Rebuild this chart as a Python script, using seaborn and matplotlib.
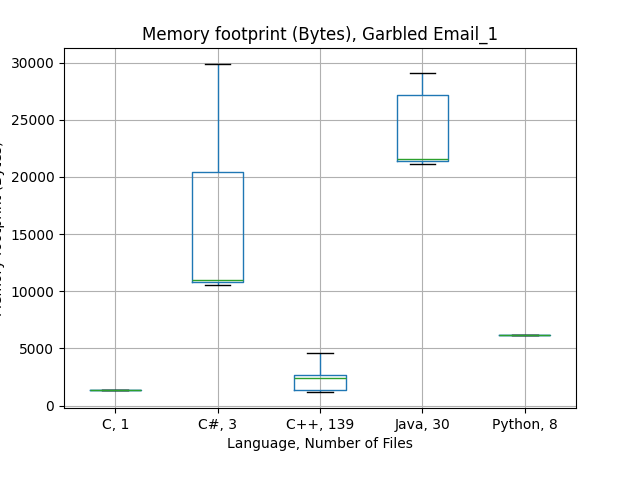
import pandas as pd
import seaborn as sns
import matplotlib
matplotlib.use('Agg')
import matplotlib.pyplot as plt

languages = ['C, 1', 'C#, 3', 'C++, 139', 'Java, 30', 'Python, 8']
c_bytes = [1380]
csharp_bytes = [10550, 11000, 29850]
cpp_bytes = [1224, 1341, 2420, 2711, 4609]
java_bytes = [21140, 21400, 21577, 27200, 29094]
python_bytes = [6120, 6150, 6150, 6160, 6180]

groups = [c_bytes, csharp_bytes, cpp_bytes, java_bytes, python_bytes]
rows = []
for lang, vals in zip(languages, groups):
    for v in vals:
        rows.append({'lang': lang, 'bytes': v})
df = pd.DataFrame(rows)

fig, ax = plt.subplots(figsize=(6.4, 4.8), dpi=100)
fig.subplots_adjust(left=0.1, right=0.9, top=0.9, bottom=0.15)

sns.boxplot(data=df, x='lang', y='bytes', order=languages, ax=ax,
            fill=False, color='C0', width=0.5, linewidth=1,
            whiskerprops={'color': 'C0'},
            capprops={'color': 'black'},
            medianprops={'color': 'C2'},
            showfliers=False)

ax.grid(True)
ax.set_axisbelow(True)
ax.set_title('Memory footprint (Bytes), Garbled Email_1')
ax.set_xlabel('Language, Number of Files')
ax.set_ylabel('Memory footprint (Bytes)')

fig.savefig('out.png')
